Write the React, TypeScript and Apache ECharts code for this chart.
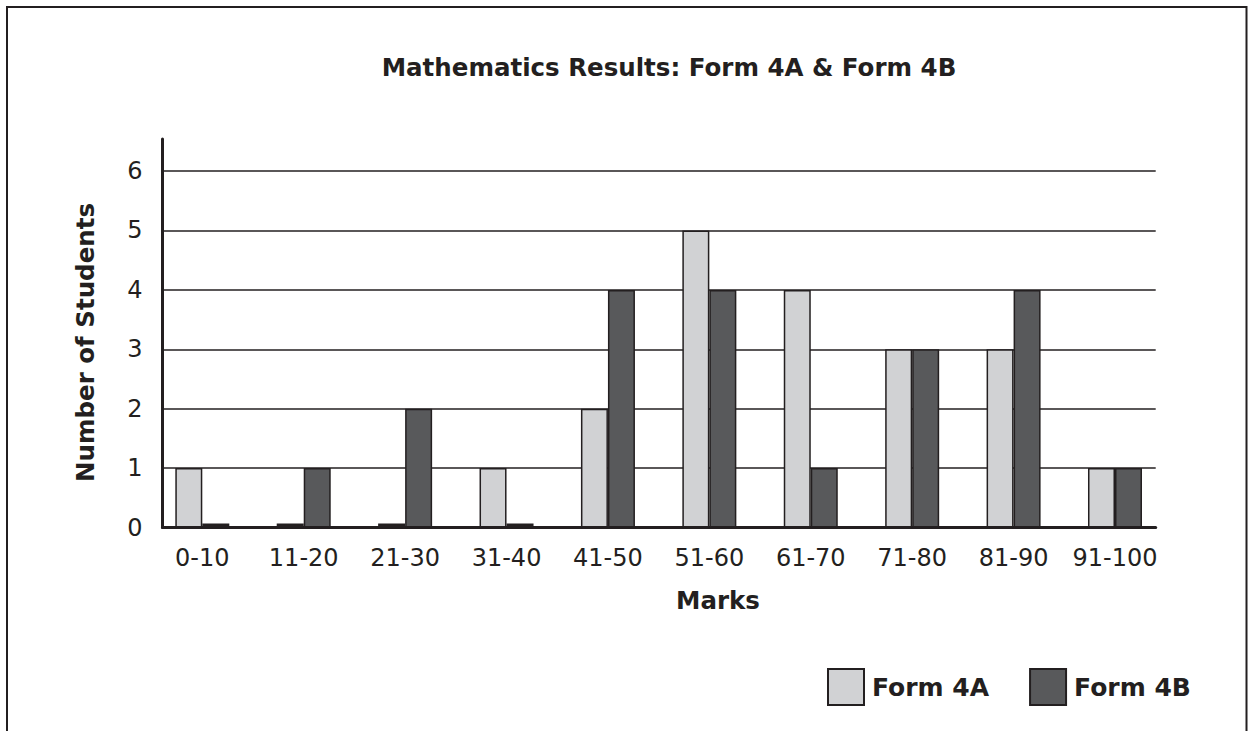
import React, { useEffect, useRef } from "react";
import * as echarts from "echarts";

// Mark bands on the horizontal axis
const markBands: string[] = ["0-10", "11-20", "21-30", "31-40", "41-50", "51-60", "61-70", "71-80", "81-90", "91-100"];
// Number of students per band
const form4A: number[] = [1, 0, 0, 1, 2, 5, 4, 3, 3, 1];
const form4B: number[] = [0, 1, 2, 0, 4, 4, 1, 3, 4, 1];
const seriesNames: string[] = ["Form 4A", "Form 4B"];

const INK = "#231f20";
const LIGHT = "#d1d2d4";
const DARK = "#58595b";
const FONT = "DejaVu Sans, Verdana, sans-serif";

const Y_MAX = 6.54;

export default function App() {
  const ref = useRef<HTMLDivElement>(null);

  useEffect(() => {
    if (!ref.current) return;
    const chart = echarts.init(ref.current, undefined, { renderer: "svg" });

    // empty bands are drawn as a thin dark stub sitting on the axis
    const barSeries = (name: string, data: number[], color: string) => ({
      name,
      type: "bar" as const,
      data: data.map((v) => (v === 0 ? { value: v, itemStyle: { color: INK } } : v)),
      xAxisIndex: 1,
      yAxisIndex: 1,
      barWidth: 27,
      barGap: "0%",
      barMinHeight: 4,
      itemStyle: { color, borderColor: INK, borderWidth: 1.5 },
      emphasis: { disabled: true },
    });

    const boldText = (text: string, x: number, y: number, rotation = 0) => ({
      type: "text",
      x,
      y,
      rotation,
      silent: true,
      style: {
        text,
        fill: INK,
        fontSize: 24.5,
        fontWeight: "bold",
        fontFamily: FONT,
        align: "center",
        verticalAlign: "middle",
      },
    });

    chart.setOption({
      animation: false,
      backgroundColor: "#ffffff",
      textStyle: { fontFamily: FONT, color: INK },
      grid: [
        // frame grid: axis lines, tick labels and gridlines
        { left: 162.5, right: 92.3, top: 139, bottom: 203.5, containLabel: false },
        // bar grid: category bands are slightly wider than the frame
        { left: 151.6, right: 82.3, top: 139, bottom: 203.5, containLabel: false },
      ],
      xAxis: [
        {
          type: "category",
          gridIndex: 0,
          data: markBands,
          axisLine: { show: true, lineStyle: { color: INK, width: 3 } },
          axisTick: { show: false },
          axisLabel: { show: false },
          splitLine: { show: false },
        },
        {
          type: "category",
          gridIndex: 1,
          data: markBands,
          axisLine: { show: false },
          axisTick: { show: false },
          axisLabel: { show: true, interval: 0, color: INK, fontSize: 24, fontFamily: FONT, margin: 18 },
          splitLine: { show: false },
        },
      ],
      yAxis: [
        {
          type: "value",
          gridIndex: 0,
          min: 0,
          max: Y_MAX,
          interval: 1,
          axisLine: { show: true, lineStyle: { color: INK, width: 3 } },
          axisTick: { show: false },
          axisLabel: {
            color: INK,
            fontSize: 24,
            fontFamily: FONT,
            margin: 20,
            formatter: (v: number) => (Number.isInteger(v) ? String(v) : ""),
          },
          splitLine: { show: true, showMaxLine: false, lineStyle: { color: INK, width: 1.5 } },
        },
        {
          type: "value",
          gridIndex: 1,
          min: 0,
          max: Y_MAX,
          interval: 1,
          show: false,
          splitLine: { show: false },
        },
      ],
      legend: {
        data: seriesNames,
        left: 822,
        top: 663,
        orient: "horizontal",
        itemWidth: 36,
        itemHeight: 36,
        itemGap: 40,
        icon: "rect",
        selectedMode: false,
        textStyle: { color: INK, fontSize: 25, fontWeight: "bold", fontFamily: FONT, padding: [0, 0, 0, 3] },
      },
      graphic: [
        {
          type: "rect",
          shape: { x: 7, y: 7, width: 1239.5, height: 800 },
          style: { fill: "none", stroke: INK, lineWidth: 2 },
          silent: true,
        },
        boldText("Mathematics Results: Form 4A & Form 4B", 669, 67),
        boldText("Number of Students", 85, 342.5, Math.PI / 2),
        boldText("Marks", 718, 600),
      ],
      series: [barSeries(seriesNames[0], form4A, LIGHT), barSeries(seriesNames[1], form4B, DARK)],
    });

    return () => chart.dispose();
  }, []);

  return (
    <div style={{ position: "absolute", left: 0, top: 0, width: 1248, height: 731, background: "#fff" }}>
      <div ref={ref} style={{ width: 1248, height: 731 }} />
    </div>
  );
}
